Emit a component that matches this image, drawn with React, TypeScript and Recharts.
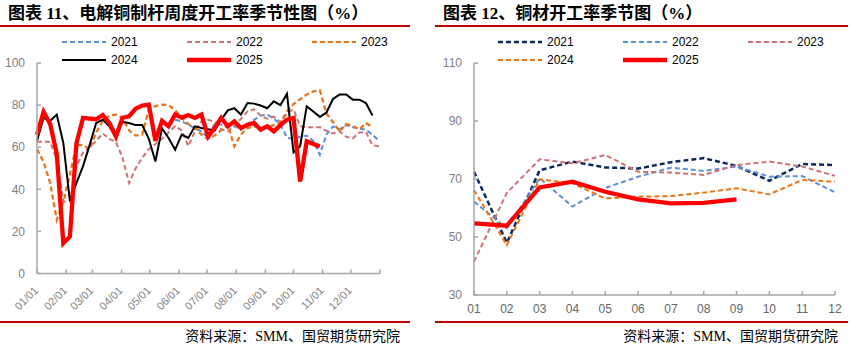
import React from "react";
import { Line, LineChart, XAxis, YAxis } from "recharts";

// left chart: weekly rod mill operating rate, x = day of year
const monthStartDays = [0, 31, 59, 90, 120, 151, 181, 212, 243, 273, 304, 334, 365];
const monthStartLabels = ["01/01", "02/01", "03/01", "04/01", "05/01", "06/01", "07/01", "08/01", "09/01", "10/01", "11/01", "12/01", ""];

const rod2021 = [
  null, null, null, null, null, null, null, null, null, null, null, null, null, null, null, null, null, null, null, null, null,
  73, 72.3, 70.7, 69, 67.5, 64.5, 71, 70.7, 70.5, 70, 68.3, 71, 73, 75, 75.5, 73.5, 71, 64.5, 64, 65, 65.5, 63, 56.4, 66,
  69.9, 68.5, 70.5, 69.5, 68.8, 68.3, 66, 63,
];
const rod2022 = [
  62.3, 62.8, 62.5, 54, 34.2, 34.2, 51, 57.5, 60, 63, 66.5, 64, 62.5, 55, 43, 50, 55, 59, 61.5, 64, 67, 70, 68, 60.5, 67.5,
  72.3, 73, 72, 68.5, 67.5, 70, 73.5, 77, 78, 75, 73.5, 74.5, 72, 76, 78, 70, 69.5, 69.5, 69.5, 67.8, 66.5, 67.5, 65, 64.2,
  67, 67.2, 61, 60.4,
];
const rod2023 = [
  59, 53, 43, 25.5, 34, 47, 61, 61, 59, 67, 72.5, 75, 75.5, 74, 68, 65.5, 66, 77.9, 79.5, 80.2, 80, 77.5, 74, 71, 69, 66,
  64, 65.5, 68, 70.7, 60.4, 66, 69.1, 69.9, 69.5, 69.5, 70.5, 71.5, 77, 80.5, 82.8, 85, 86.5, 87, 76, 72, 67.5, 71, 70,
  68.5, 71.5, 69.5,
];
const rod2024 = [
  63, 74, 72.5, 75.5, 62, 34.5, 43, 51, 61, 71.5, 73.1, 69.9, 65, 72, 71.5, 70.5, 70.5, 64, 53.2, 69, 64.4, 58.8, 66, 64.4,
  69.9, 69.1, 68.5, 67.9, 73, 77.5, 78.5, 75.5, 81, 80.7, 79.8, 78.5, 81.8, 80, 85.3, 57.5, 60.5, 79.4, 77, 74.4, 76.5,
  82.9, 85, 85, 82.6, 82.6, 81, 75.1,
];
const rod2025 = [
  66, 76.8, 71, 57, 14.4, 17.5, 62, 73.9, 73.6, 73.3, 75.3, 71.5, 65, 74, 74.7, 78.3, 79.8, 80.2, 63, 72.5, 70, 75.5, 74,
  75.3, 73.9, 75.5, 65, 69.1, 73.9, 69.9, 72.3, 69.1, 70.7, 71.5, 68.3, 69.9, 67.5, 70.5, 73.1, 73.9, 43.7, 62.8, 61.5, 60.4,
];

// right chart: monthly copper products operating rate
const months = ["01", "02", "03", "04", "05", "06", "07", "08", "09", "10", "11", "12"];
const mill2021 = [72.5, 48, 73, 76, 74, 73.6, 75.8, 77.2, 74.5, 69.4, 75.2, 74.8];
const mill2022 = [62.2, 53, 70.3, 60.5, 66.9, 70.8, 73.9, 72.8, 74.3, 70.8, 71, 65.4];
const mill2023 = [41.5, 65.2, 76.8, 75.4, 78.3, 72.5, 72.2, 71.4, 74.8, 76, 74.3, 71.1];
const mill2024 = [66.2, 47.2, 69.9, 68.5, 63.3, 63.9, 64.1, 65.3, 66.8, 64.7, 69.7, 69.1];
const mill2025 = [54.7, 53.9, 67.1, 69.1, 65.6, 63, 61.6, 61.8, 63, null, null, null];

const leftData = rod2022.map((_, i) => ({
  day: i * 7,
  y2021: rod2021[i] ?? null,
  y2022: rod2022[i] ?? null,
  y2023: rod2023[i] ?? null,
  y2024: rod2024[i] ?? null,
  y2025: rod2025[i] ?? null,
}));

const rightData = months.map((m, i) => ({
  month: m,
  y2021: mill2021[i],
  y2022: mill2022[i],
  y2023: mill2023[i],
  y2024: mill2024[i],
  y2025: mill2025[i],
}));

const AXIS = "#a6a6a6";
const SANS = '"Liberation Sans", Arial, sans-serif';
const SERIF = '"Liberation Serif", "Noto Sans CJK SC", serif';

const YTick = (props: any) => {
  const { x, y, payload } = props;
  return (
    <g>
      <line x1={x + 12} x2={x + 16} y1={y} y2={y} stroke={AXIS} strokeWidth={1.5} />
      <text x={x} y={y} dy="0.35em" textAnchor="end" fontSize={12} fill="#7f7f7f" fontFamily={SANS}>
        {payload.value}
      </text>
    </g>
  );
};

const DayTick = (props: any) => {
  const { x, y, payload } = props;
  const label = monthStartLabels[monthStartDays.indexOf(payload.value)] ?? "";
  const ax = x - 1;
  const ay = y + 5;
  return (
    <g>
      <line x1={x} x2={x} y1={y - 10} y2={y - 14} stroke={AXIS} strokeWidth={1.5} />
      <text
        x={ax}
        y={ay}
        dy="0.35em"
        textAnchor="end"
        transform={`rotate(-45 ${ax} ${ay})`}
        fontSize={11}
        fill="#7f7f7f"
        fontFamily={SANS}
      >
        {label}
      </text>
    </g>
  );
};

const MonthTick = (props: any) => {
  const { x, y, payload } = props;
  return (
    <g>
      <line x1={x} x2={x} y1={y - 9} y2={y - 13} stroke={AXIS} strokeWidth={1.5} />
      <text x={x} y={y} dy="0.71em" textAnchor="middle" fontSize={12} fill="#666" fontFamily={SANS}>
        {payload.value}
      </text>
    </g>
  );
};

type Item = { label: string; color: string; width: number; dash?: string };

const leftItems: Item[] = [
  { label: "2021", color: "#5b8fd6", width: 2, dash: "5 3" },
  { label: "2022", color: "#cc7474", width: 2, dash: "5 3" },
  { label: "2023", color: "#e8741c", width: 2, dash: "5 3" },
  { label: "2024", color: "#000000", width: 2 },
  { label: "2025", color: "#ff0000", width: 4.5 },
];
const rightItems: Item[] = [
  { label: "2021", color: "#0d2a5e", width: 2.5, dash: "5 3" },
  { label: "2022", color: "#5b8fd6", width: 2, dash: "5 3" },
  { label: "2023", color: "#cc7474", width: 2, dash: "5 3" },
  { label: "2024", color: "#ed7513", width: 2, dash: "5 3" },
  { label: "2025", color: "#ff0000", width: 4.5 },
];

function LegendBox({ items, left }: { items: Item[]; left: number }) {
  return (
    <div
      style={{
        position: "absolute",
        left,
        top: 33,
        display: "grid",
        gridTemplateColumns: "repeat(3, 125px)",
        gridAutoRows: "18px",
      }}
    >
      {items.map((it) => (
        <div key={it.label} style={{ display: "flex", alignItems: "center", height: 18 }}>
          <svg width={44} height={8} style={{ marginRight: 5 }}>
            <line x1={0} x2={44} y1={4} y2={4} stroke={it.color} strokeWidth={it.width} strokeDasharray={it.dash} />
          </svg>
          <span style={{ fontFamily: SANS, fontSize: 12, color: "#000" }}>{it.label}</span>
        </div>
      ))}
    </div>
  );
}

function Frame({ left, width, title }: { left: number; width: number; title: string }) {
  return (
    <>
      <div
        style={{
          position: "absolute",
          left: left + 8,
          top: 4,
          fontFamily: SERIF,
          fontWeight: 700,
          fontSize: 17,
          lineHeight: "20px",
          whiteSpace: "nowrap",
        }}
      >
        {title}
      </div>
      <div style={{ position: "absolute", left, top: 25, width, height: 2, background: "#c00000" }} />
      <div style={{ position: "absolute", left, top: 321, width, height: 2, background: "#c00000" }} />
      <div
        style={{
          position: "absolute",
          left,
          width: width - 10,
          top: 328,
          textAlign: "right",
          fontFamily: SERIF,
          fontSize: 14,
          lineHeight: "18px",
          whiteSpace: "nowrap",
        }}
      >
        资料来源：SMM、国贸期货研究院
      </div>
    </>
  );
}

export default function App() {
  return (
    <div style={{ position: "absolute", left: 0, top: 0, width: 857, height: 354, background: "#fff", overflow: "hidden" }}>
      <Frame left={0} width={410} title="图表 11、电解铜制杆周度开工率季节性图（%）" />
      <Frame left={435} width={413} title="图表 12、铜材开工率季节图（%）" />

      <div style={{ position: "absolute", left: 0, top: 0 }}>
        <LineChart width={410} height={320} data={leftData} margin={{ top: 63, right: 30, left: 7, bottom: 6.5 }}>
          <XAxis
            dataKey="day"
            type="number"
            domain={[0, 365]}
            ticks={monthStartDays}
            interval={0}
            height={40}
            tickSize={0}
            tickMargin={10}
            tick={<DayTick />}
            axisLine={{ stroke: AXIS, strokeWidth: 1.5 }}
          />
          <YAxis
            domain={[0, 100]}
            ticks={[0, 20, 40, 60, 80, 100]}
            width={30}
            tickSize={0}
            tickMargin={12}
            tick={<YTick />}
            axisLine={{ stroke: AXIS, strokeWidth: 1.5 }}
          />
          <Line dataKey="y2021" stroke="#5b8fd6" strokeWidth={2} strokeDasharray="5 3" dot={false} type="linear" isAnimationActive={false} />
          <Line dataKey="y2022" stroke="#cc7474" strokeWidth={2} strokeDasharray="5 3" dot={false} type="linear" isAnimationActive={false} />
          <Line dataKey="y2023" stroke="#e8741c" strokeWidth={2.3} strokeDasharray="5 3" dot={false} type="linear" isAnimationActive={false} />
          <Line dataKey="y2024" stroke="#000000" strokeWidth={2} dot={false} type="linear" isAnimationActive={false} />
          <Line dataKey="y2025" stroke="#ff0000" strokeWidth={4.3} dot={false} type="linear" isAnimationActive={false} />
        </LineChart>
      </div>

      <div style={{ position: "absolute", left: 430, top: 0 }}>
        <LineChart width={420} height={320} data={rightData} margin={{ top: 63, right: 15, left: 14, bottom: 5 }}>
          <XAxis
            dataKey="month"
            interval={0}
            height={20}
            tickSize={0}
            tickMargin={9}
            tick={<MonthTick />}
            axisLine={{ stroke: AXIS, strokeWidth: 1.5 }}
          />
          <YAxis
            domain={[30, 110]}
            ticks={[30, 50, 70, 90, 110]}
            width={30}
            tickSize={0}
            tickMargin={12}
            tick={<YTick />}
            axisLine={{ stroke: AXIS, strokeWidth: 1.5 }}
          />
          <Line dataKey="y2021" stroke="#0d2a5e" strokeWidth={2.5} strokeDasharray="5 3" dot={false} type="linear" isAnimationActive={false} />
          <Line dataKey="y2022" stroke="#5b8fd6" strokeWidth={2} strokeDasharray="5 3" dot={false} type="linear" isAnimationActive={false} />
          <Line dataKey="y2023" stroke="#cc7474" strokeWidth={2} strokeDasharray="5 3" dot={false} type="linear" isAnimationActive={false} />
          <Line dataKey="y2024" stroke="#ed7513" strokeWidth={2} strokeDasharray="5 3" dot={false} type="linear" isAnimationActive={false} />
          <Line dataKey="y2025" stroke="#ff0000" strokeWidth={4.3} dot={false} type="linear" isAnimationActive={false} />
        </LineChart>
      </div>

      <LegendBox items={leftItems} left={62} />
      <LegendBox items={rightItems} left={498} />
    </div>
  );
}
